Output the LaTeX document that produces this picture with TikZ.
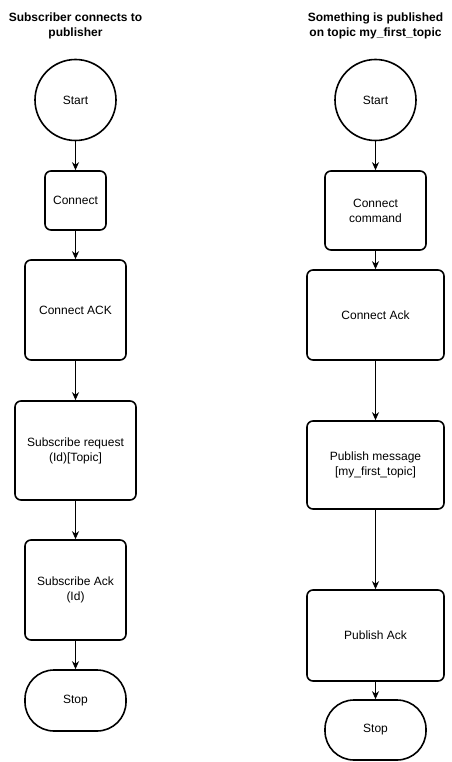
\documentclass[tikz,border=0pt]{standalone}
\usepackage{fontspec}
\setmainfont{Liberation Sans}
\usetikzlibrary{arrows.meta}
\begin{document}
\begin{tikzpicture}[x=1pt,y=-1pt,
  every node/.style={font=\fontsize{12}{15}\selectfont, align=center, inner sep=0pt},
  box/.style={draw, line width=1.6pt, rounded corners=6pt},
  startc/.style={draw, circle, line width=1.6pt, minimum size=81pt},
  stopc/.style={draw, line width=1.6pt, rounded corners=29pt},
  title/.style={font=\bfseries\fontsize{12}{15}\selectfont},
  arr/.style={-{Stealth[length=8pt,width=7pt,inset=2.5pt]}, line width=0.9pt}]
\useasboundingbox (0,0) rectangle (451,762);
% titles
\node[title] (lt) at (75.5,25.5) {Subscriber connects to\\publisher};
\node[title] (rt) at (375.5,25.5) {Something is published\\on topic my\_first\_topic};
% left column
\node[startc] (ls) at (75.5,100) {Start};
\node[box, minimum width=61pt, minimum height=59pt] (l1) at (75.5,200.5) {Connect};
\node[box, minimum width=101pt, minimum height=100pt] (l2) at (75.5,310) {Connect ACK};
\node[box, minimum width=121pt, minimum height=99pt] (l3) at (75.5,450.5) {Subscribe request\\(Id)[Topic]};
\node[box, minimum width=101pt, minimum height=100pt] (l4) at (75.5,590) {Subscribe Ack\\(Id)};
\node[stopc, minimum width=101pt, minimum height=61pt] (l5) at (75.5,700.5) {Stop};
% right column
\node[startc] (rs) at (375.5,100) {Start};
\node[box, minimum width=101pt, minimum height=79pt] (r1) at (375.5,210.5) {Connect\\command};
\node[box, minimum width=137pt, minimum height=90pt] (r2) at (375.5,315) {Connect Ack};
\node[box, minimum width=137pt, minimum height=88pt] (r3) at (375.5,465) {Publish message\\{}[my\_first\_topic]};
\node[box, minimum width=137pt, minimum height=91pt] (r4) at (375.5,635.5) {Publish Ack};
\node[stopc, minimum width=101pt, minimum height=60pt] (r5) at (375.5,730) {Stop};
% connectors
\draw[arr] (ls) -- (l1);
\draw[arr] (l1) -- (l2);
\draw[arr] (l2) -- (l3);
\draw[arr] (l3) -- (l4);
\draw[arr] (l4) -- (l5);
\draw[arr] (rs) -- (r1);
\draw[arr] (r1) -- (r2);
\draw[arr] (r2) -- (r3);
\draw[arr] (r3) -- (r4);
\draw[arr] (r4) -- (r5);
\end{tikzpicture}
\end{document}
